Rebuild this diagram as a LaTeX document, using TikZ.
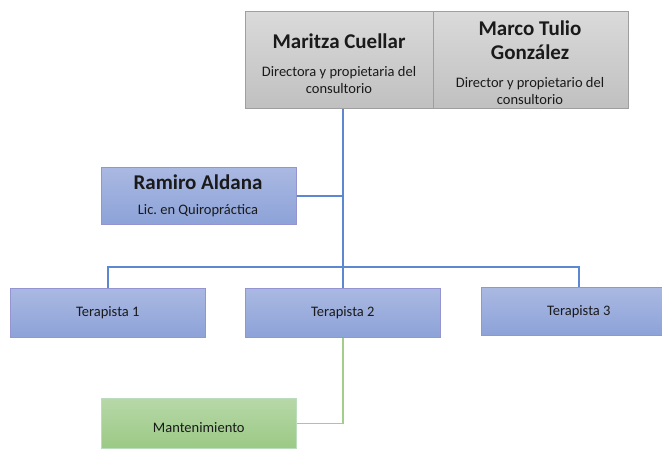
\documentclass[tikz,border=0pt]{standalone}
\usepackage{fontspec}
\setmainfont{Carlito}
\frenchspacing
\definecolor{lnblue}{HTML}{5C88D2}
\definecolor{lngreen}{HTML}{A2CE8A}
\definecolor{grtop}{HTML}{DADADA}
\definecolor{grbot}{HTML}{C0C0C0}
\definecolor{bltop}{HTML}{AAB9E2}
\definecolor{blbot}{HTML}{8DA2D8}
\definecolor{gntop}{HTML}{B7D8A8}
\definecolor{gnbot}{HTML}{9BC985}
\definecolor{txt}{HTML}{1A1A1A}
\tikzset{
  basebox/.style={anchor=north west, inner sep=0pt, minimum width=195pt, minimum height=49pt},
  graybox/.style={basebox, draw=gray!75, top color=grtop, bottom color=grbot, line width=0.6pt},
  bluebox/.style={basebox, draw=gray!60!blue!60, top color=bltop, bottom color=blbot, line width=0.6pt},
  greenbox/.style={basebox, draw=gray!70!green!40, top color=gntop, bottom color=gnbot, line width=0.6pt},
  titletext/.style={text=txt, align=center, font=\fontsize{21}{23.5}\selectfont\bfseries},
  subtext/.style={text=txt, align=center, font=\fontsize{14.5}{17.5}\selectfont},
  plaintext/.style={text=txt, font=\fontsize{14.5}{17.5}\selectfont},
  blueline/.style={draw=lnblue, line width=1.4pt},
  greenline/.style={draw=lngreen, line width=1.6pt}
}
\begin{document}
\begin{tikzpicture}[x=1pt,y=-1pt]
\useasboundingbox (0,0) rectangle (662,450);
\clip (0,0) rectangle (662,450);
% boxes
\node[graybox, minimum width=188pt, minimum height=97pt] (maritza) at (245,11) {};
\node[graybox, minimum width=195pt, minimum height=97pt] (marco) at (433,11) {};
\node[bluebox, minimum height=57pt] (ramiro) at (101,167) {};
\node[bluebox] (t1) at (10,288) {};
\node[bluebox] (t2) at (245,288) {};
\node[bluebox, minimum height=48pt] (t3) at (481,287) {};
\node[greenbox, minimum height=50pt] (mant) at (101,398) {};
% connectors
\draw[blueline] (t2.north |- maritza.south) -- (t2.north);
\draw[blueline] (ramiro.east) -- (ramiro.east -| t2.north);
\draw[blueline] (t1.north) -- ++(0,-21) -| (t3.north);
\draw[greenline] (t2.south) |- (mant.east);
% texts
\node[titletext] (maritzaname) at (339,41) {Maritza Cuellar};
\node[subtext] (maritzarole) at (339,80) {Directora y propietaria del\\consultorio};
\node[titletext] (marconame) at (530,40) {Marco Tulio\\González};
\node[subtext] (marcorole) at (530,91) {Director y propietario del\\consultorio};
\node[titletext] (ramironame) at (198,182) {Ramiro Aldana};
\node[subtext] (ramirorole) at (198,211) {Lic. en Quiropráctica};
\node[plaintext] (t1txt) at (t1.center) {Terapista 1};
\node[plaintext] (t2txt) at (t2.center) {Terapista 2};
\node[plaintext] (t3txt) at (t3.center) {Terapista 3};
\node[plaintext] (manttxt) at ([yshift=-4pt]mant.center) {Mantenimiento};
\end{tikzpicture}
\end{document}
